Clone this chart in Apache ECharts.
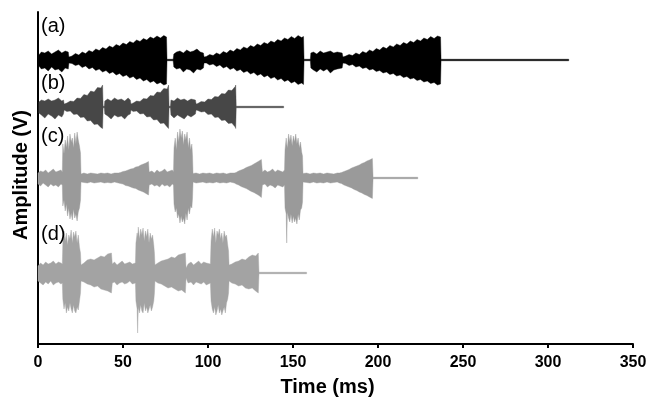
<!DOCTYPE html>
<html><head><meta charset="utf-8">
<script src="https://cdn.jsdelivr.net/npm/echarts@6/dist/echarts.min.js"></script>
<style>html,body{margin:0;padding:0;background:#fff}#c{width:652px;height:403px}</style>
</head><body><div id="c"></div>
<script>
// x tick labels
var xTicks = [0, 50, 100, 150, 200, 250, 300, 350];
var signalNames = ['(a)', '(b)', '(c)', '(d)'];
// baseline (vertical offset) of each trace, arbitrary amplitude units
var baselines = [284, 237, 166, 71];

// (a) envelope: time (ms), upper and lower amplitude
var tA = [0.5,2,4,6,8,10,12,14,16,17.8,
18.2,
20,22,24,26,28,30,32,34,36,38,40,42,44,46,48,50,52,54,56,58,60,62,64,66,68,70,72,74,75.6,
75.9,79.5,
79.9,81.5,83.5,85.5,87.5,89.5,91.5,93.5,95.5,97.3,
97.7,
99,101,103,105,107,109,111,113,115,117,119,121,123,125,127,129,131,133,135,137,139,141,143,145,147,149,151,153,155,156.2,
156.5,160.2,
160.5,162,164,166,168,170,172,174,176,178.9,
179.4,
181,183,185,187,189,191,193,195,197,199,201,203,205,207,209,211,213,215,217,219,221,223,225,227,229,231,233,235,236.8,
237.1,312.2];
var upA = [5,8,7,9,6,8,10,7,9,8,
3,
4,6.5,5,8,6.5,9.5,8,11,9.5,12.5,11,14,12.5,15.5,14,17,15.5,18.5,17,20,18.5,21.5,20,23,21.5,24,22,24.5,23,
0.75,0.75,
6,8,9,7,10,8,9,11,8,7,
3,
3.5,5.5,4.5,7,5.5,8.5,7,10,8.5,11.5,10,13,11.5,14.5,13,16,14.5,17.5,16,19,17.5,20.5,19,22,20.5,23.5,21.5,24.5,22.5,23.5,
0.75,0.75,
7,8,6,9,7,8,9,7,8,7,
3,
4,5.5,4.5,7,5.5,8.5,7,10,8.5,11.5,10,13,11.5,14.5,13,16,14.5,17.5,16,19,17.5,20.5,19,22,20.5,23.5,21.5,24,23,
0.75,0.75];
var loA = [6,9,8,11,7,10,9,12,8,9,
3,
3.5,5.5,4.5,7.5,6,9,7.5,10.5,9,12,10.5,13.5,12,15,13.5,16.5,15,18,16.5,19.5,18,21,19.5,22.5,21,24,22.5,25,24,
0.75,0.75,
7,9,8,12,9,10,13,9,10,8,
3,
3,5,4,6.5,5,8,6.5,9.5,8,11,9.5,12.5,11,14,12.5,15.5,14,17,15.5,18.5,17,20,18.5,21.5,20,23,21.5,24.5,23,24.5,
0.75,0.75,
8,10,12,9,11,9,13,10,9,8,
3,
3.5,5.5,4.5,7,6,8.5,7.5,10,9,11.5,10.5,13,12,14.5,13.5,16,15,17.5,16.5,19,18,20.5,19.5,22,21,23.5,22.5,25,24,
0.75,0.75];

// (b)
var tB = [0.5,2,4,6,8,10,12,14,15,
15.4,
17,19,21,23,25,27,29,31,33,35,37,38,
38.3,39,
39.3,41,43,45,47,49,51,53,54.3,
54.7,
56,58,60,62,64,66,68,70,72,74,76,76.8,
77.1,77.9,
78.2,80,82,84,86,88,90,92.6,
93,
94,96,98,100,102,104,106,108,110,112,114,116,116.3,
116.6,144.5];
var upB = [5,7,6,8,6,7,9,6,7,
3,
4,6,5.5,9,8.5,12.5,11.5,16,15,19.5,19,22,
0.75,0.75,
6,8,6,9,7,8,6,9,7,
3,
4,6,5.5,8.5,8,11.5,11,15,14.5,18.5,18,22,
0.75,0.75,
7,6,9,7,8,6,8,7,
3,
3.5,5.5,5,8,7.5,10.5,10,13.5,13,17,16.5,20.5,22,
0.75,0.75];
var loB = [6,8,11,7,9,12,8,10,7,
3,
4.5,4,7.5,7,10.5,10,14,13.5,17.5,17,20.5,21.5,
0.75,0.75,
7,9,12,8,10,9,12,8,7,
3,
4.5,4,7,6.5,10,9.5,13,12.5,16.5,16,20,21.5,
0.75,0.75,
8,11,8,10,12,8,10,7,
3,
3.5,5,4.5,7.5,7,10.5,10,13.5,13,16.5,16,20,21.5,
0.75,0.75];

// (c)
var tC = [0,1.5,3,4.5,6,7.5,9,10.5,12,13.5,14.3,
14.6,15.3,16,16.7,17.4,18.1,18.8,19.5,20.2,20.9,21.6,22.3,23,23.7,24.4,25,
25.3,27,29,31,33,35,37,39,41,43,45,47.3,
48.5,50,51.5,53,54.5,56,57.5,59,60.5,62,63.5,65,
65.4,67,68.5,70,71.5,73,74.5,76,77.5,79,79.7,
80,80.7,81.4,82.1,82.8,83.5,84.2,84.9,85.6,86.3,87,87.7,88.4,89.1,89.8,90.5,90.9,
91.2,93,95,97,99,101,103,105,107,109,111,113,115.5,
116.5,118,119.5,121,122.5,124,125.5,127,128.5,130,131.4,
132,133.5,135,136.5,138,139.5,141,142.5,144,145,
145.3,146,146.3,146.7,147.4,148.1,148.8,149.5,150.2,150.9,151.6,152.3,153,153.7,154.4,155.1,155.6,
155.9,158,160,162,164,166,168,170,172,174,176,177.3,
178.5,180,181.5,183,184.5,186,187.5,189,190.5,192,193.5,195,196.7,
197.1,223.4];
var upC = [5,7,6,8,5,7,9,6,7,8,6,
34,24,38,30,42,28,44,36,40,30,45,34,46,38,32,25,
4,5,4,5,4.5,4,5,4.5,5,4,5,5,
5.5,6.5,7,8,9,9.5,11,11.5,13,14,15,16.5,
6,7,5,8,6,7,9,6,7,8,6,
30,40,28,46,36,49,40,47,33,44,38,46,30,40,28,34,22,
4.5,5,4,5,4.5,5,4,5,4.5,5,4,5,5,
5.5,7,8,9,10.5,11.5,12.5,14,15.5,17,18.5,
6,8,6,7,9,6,8,7,6,8,
28,40,34,30,44,36,43,32,42,36,44,34,40,30,36,26,22,
4.5,5,4,5,4.5,5,4,5,4.5,4,5,5,
5.5,6.5,7.5,8.5,10,11,12,13,14.5,15.5,17,18,19.5,
0.75,0.75];
var loC = [6,8,5,7,9,6,8,7,9,6,7,
28,22,33,26,38,30,41,35,42,31,40,36,43,34,30,22,
4,4.5,5,4,5,4.5,4,5,4.5,5,4,5,
5.5,6,7.5,8,9,10,10.5,12,13,14,15.5,17,
7,6,8,7,9,6,8,7,9,6,7,
26,34,30,40,36,45,38,44,40,46,35,42,30,36,28,30,20,
4,5,4.5,4,5,4.5,5,4,5,4.5,5,4,5,
6,7,8.5,9.5,10.5,12,13.5,14.5,16,17.5,19.5,
7,6,9,7,8,10,7,8,9,7,
30,36,65,34,40,44,36,45,38,44,40,46,36,42,32,30,24,
4,4.5,5,4,5,4.5,5,4,5,4.5,4,5,
5.5,7,8,9,10,11.5,12.5,14,15,16.5,17.5,19,20.5,
0.75,0.75];

// (d)
var tD = [0,1.5,3,4.5,6,7.5,9,10.5,12,13.5,14.3,
14.6,15.3,16,16.7,17.4,18.1,18.8,19.5,20.2,20.9,21.6,22.3,23,23.7,24.4,25,
25.3,27,29,31,33,35,37,39,41,43.2,
43.7,45,46.5,48,49.5,51,52.5,54,55.5,57.3,
57.6,58.3,58.6,59,59.7,60.4,61.1,61.8,62.5,63.2,63.9,64.6,65.3,66,66.7,67.4,68.1,68.5,
68.8,70.5,72.5,74.5,76.5,78.5,80.5,82.5,84.5,86.7,
87.1,88.3,90,91.5,93,94.5,96,97.5,99,101.4,
101.8,102.5,103.2,103.9,104.6,105.3,106,106.7,107.4,108.1,108.8,109.5,110.2,110.9,111.6,112.1,
112.4,114,116,118,120,122,124,126,128,129.6,
130,158];
var upD = [7,10,8,11,9,10,12,9,11,10,9,
30,42,32,40,28,38,34,43,30,41,36,42,30,38,26,20,
8,10,13,14,13,15,17,16,19,20,
9,11,8,10,12,9,10,11,9,10,
30,40,36,46,34,44,38,45,32,42,36,44,30,40,34,38,28,20,
8,10,12,13,14,16,15,18,19,20,
5,9,11,8,10,12,9,11,10,9,
32,44,36,45,30,42,38,44,34,40,30,42,36,38,28,22,
8,9,11,12,14,13,16,18,17,20,
0.75,0.75];
var loD = [8,10,12,9,11,8,12,10,9,11,10,
26,36,30,40,34,38,30,36,40,32,38,40,34,37,28,20,
8,9,11,12,14,13,16,17,18,20,
10,9,12,10,9,11,10,8,11,10,
28,36,60,34,40,32,38,40,30,38,34,40,36,32,38,34,28,20,
8,10,11,13,15,14,16,18,17,20,
5,10,9,12,9,10,11,9,12,10,
28,36,40,34,42,38,32,40,36,42,38,34,40,30,26,20,
8,10,11,13,12,15,16,15,18,20,
0.75,0.75];

var colors = ['#000000', '#474747', '#9a9a9a', '#a3a3a3'];
var FONT = 'Liberation Sans';

var signals = [[tA, upA, loA], [tB, upB, loB], [tC, upC, loC], [tD, upD, loD]];
var series = signals.map(function (s, k) {
  var t = s[0], up = s[1], lo = s[2];
  if (t.length !== up.length || t.length !== lo.length) {
    console.error('length mismatch in ' + signalNames[k] + ': ' + t.length + ' ' + up.length + ' ' + lo.length);
  }
  return {
    type: 'custom', name: signalNames[k], silent: true, z: 2,
    data: [[t[0], baselines[k]]],
    renderItem: function (params, api) {
      var pts = [], i;
      for (i = 0; i < t.length; i++) pts.push(api.coord([t[i], baselines[k] + up[i]]));
      for (i = t.length - 1; i >= 0; i--) pts.push(api.coord([t[i], baselines[k] - lo[i]]));
      return { type: 'polygon', shape: { points: pts },
        style: { fill: colors[k], stroke: colors[k], lineWidth: 0.4 } };
    }
  };
});

var labelTops = [16, 73, 126, 224];
var graphics = signalNames.map(function (n, k) {
  return { type: 'text', left: 41, top: labelTops[k], z: 10,
    style: { text: n, fill: '#000', font: '20px "' + FONT + '"' } };
});

var chart = echarts.init(document.getElementById('c'), null, { renderer: 'canvas' });
chart.setOption({
  animation: false,
  backgroundColor: '#ffffff',
  grid: { left: 38, right: 19, top: 12, bottom: 59 },
  xAxis: {
    type: 'value', min: xTicks[0], max: xTicks[xTicks.length - 1], interval: 50,
    name: 'Time (ms)', nameLocation: 'middle', nameGap: 33,
    nameTextStyle: { fontFamily: FONT, fontWeight: 'bold', fontSize: 20, color: '#000', padding: [0, 16, 0, 0] },
    axisLine: { onZero: false, lineStyle: { color: '#000', width: 2 } },
    axisTick: { show: true, inside: false, length: 4, lineStyle: { color: '#000', width: 2 } },
    axisLabel: { margin: 11, fontFamily: FONT, fontWeight: 'bold', fontSize: 16, color: '#000' },
    splitLine: { show: false }
  },
  yAxis: {
    type: 'value', min: 0, max: 332,
    name: 'Amplitude (V)', nameLocation: 'middle', nameGap: 7,
    nameTextStyle: { fontFamily: FONT, fontWeight: 'bold', fontSize: 20, color: '#000', padding: [0, 0, 0, 6] },
    axisLine: { show: true, onZero: false, lineStyle: { color: '#000', width: 2 } },
    axisTick: { show: false }, axisLabel: { show: false }, splitLine: { show: false }
  },
  graphic: graphics,
  series: series
});
</script></body></html>
